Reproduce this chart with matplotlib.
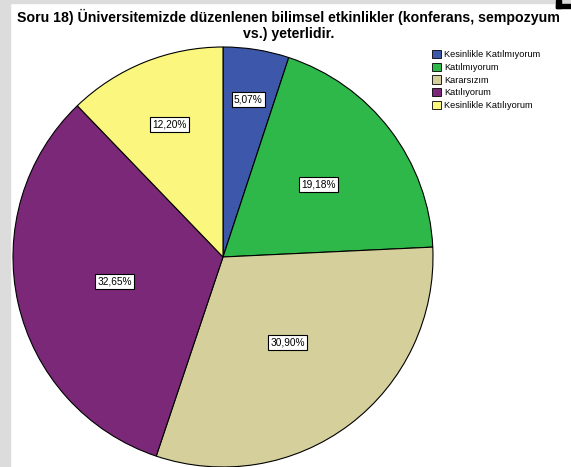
import matplotlib.pyplot as plt
import numpy as np
from matplotlib.patches import Rectangle

categories = ['Kesinlikle Katılmıyorum', 'Katılmıyorum', 'Kararsızım', 'Katılıyorum', 'Kesinlikle Katılıyorum']
percents = [5.07, 19.18, 30.90, 32.65, 12.20]
pct_labels = ['5,07%', '19,18%', '30,90%', '32,65%', '12,20%']
colors = ['#3d57ab', '#2fb84a', '#d5cf9b', '#7c2878', '#fbf67e']

fig = plt.figure(figsize=(5.71, 4.67), dpi=100)
fig.patch.set_facecolor('white')

W, H = 571, 467

# gray frame strips and corner mark
fig.patches.append(Rectangle((0, 0), 10 / W, 1, transform=fig.transFigure, color='#dcdcdc', zorder=0))
fig.patches.append(Rectangle((0, 1 - 3 / H), 1, 3 / H, transform=fig.transFigure, color='#dcdcdc', zorder=0))
fig.patches.append(Rectangle((556 / W, 1 - 8 / H), 5 / W, 8 / H, transform=fig.transFigure, color='black', zorder=5))
fig.patches.append(Rectangle((556 / W, 1 - 8 / H), 15 / W, 4 / H, transform=fig.transFigure, color='black', zorder=5))

# pie: center ~ (223, 257) px, radius ~ 210 px
cx, cy, r = 223, 257, 210
ax = fig.add_axes([(cx - r) / W, (H - cy - r) / H, 2 * r / W, 2 * r / H])
wedges, _ = ax.pie(percents, colors=colors, startangle=90, counterclock=False,
                   wedgeprops=dict(edgecolor='black', linewidth=0.8))
ax.set_xlim(-1, 1)
ax.set_ylim(-1, 1)
ax.set_aspect('equal')

# label distances (fraction of radius) as placed in the original
label_dist = [0.76, 0.57, 0.51, 0.53, 0.68]
cum = np.cumsum([0] + percents)
for i, lab in enumerate(pct_labels):
    mid = (cum[i] + cum[i + 1]) / 2
    ang = np.deg2rad(90 - mid / 100 * 360)
    d = label_dist[i]
    ax.text(d * np.cos(ang), d * np.sin(ang), lab, ha='center', va='center', fontsize=7.3,
            family='Liberation Sans',
            bbox=dict(boxstyle='square,pad=0.22', facecolor='white', edgecolor='black', linewidth=0.8))

fig.text(0.505, 1 - 17 / H, 'Soru 18) Üniversitemizde düzenlenen bilimsel etkinlikler (konferans, sempozyum',
         ha='center', va='center', fontsize=10.2, fontweight='bold', family='Liberation Sans')
fig.text(0.505, 1 - 34 / H, 'vs.) yeterlidir.',
         ha='center', va='center', fontsize=10.2, fontweight='bold', family='Liberation Sans')

handles = [Rectangle((0, 0), 1, 1, facecolor=c, edgecolor='black', linewidth=0.6) for c in colors]
fig.legend(handles, categories, loc='upper left', bbox_to_anchor=(432 / W, 1 - 50 / H),
           frameon=False, prop={'family': 'Liberation Sans', 'size': 6.6},
           handlelength=0.95, handleheight=1.0, handletextpad=0.35, labelspacing=0.38,
           borderaxespad=0, borderpad=0)

fig.savefig('out.png', dpi=100, facecolor='white')
